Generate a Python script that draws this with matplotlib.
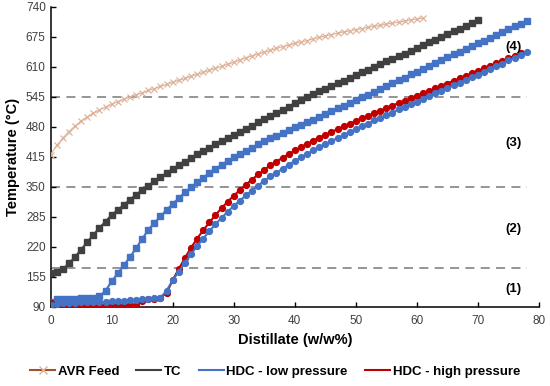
import numpy as np
import matplotlib
matplotlib.use("Agg")
import matplotlib.pyplot as plt
from matplotlib.lines import Line2D

plt.rcParams['font.family'] = ['Liberation Sans', 'DejaVu Sans']

# distillate (w/w%) vs temperature (degC), one point per 1 w/w%
avr_feed = [420, 440, 456, 470, 482, 493, 502, 510, 517, 523,
            529, 535, 540, 545, 550, 554, 559, 563, 568, 572,
            577, 581, 585, 590, 594, 598, 603, 607, 611, 616,
            620, 625, 630, 634, 638, 642, 646, 650, 654, 657,
            661, 664, 667, 671, 674, 677, 680, 683, 686, 688,
            691, 693, 696, 698, 700, 703, 705, 707, 709, 712,
            714, 716]

tc = [164, 166, 171, 184, 198, 214, 230, 246, 261, 275,
      289, 300, 311, 322, 333, 343, 353, 362, 371, 380,
      389, 397, 405, 413, 421, 428, 435, 442, 449, 456,
      463, 470, 476, 483, 490, 497, 504, 511, 517, 524,
      531, 538, 545, 551, 557, 563, 569, 575, 580, 586,
      592, 598, 604, 610, 616, 622, 628, 633, 639, 645,
      651, 657, 663, 669, 675, 681, 687, 693, 699, 705,
      711]

hdc_low_sq = [101, 106, 107, 108, 108, 109, 109, 110, 113, 125,
              145, 163, 180, 198, 217, 237, 257, 272, 286, 300,
              313, 326, 338, 349, 360, 370, 380, 389, 398, 406,
              414, 421, 428, 435, 442, 449, 455, 461, 467, 473,
              479, 485, 490, 496, 502, 508, 514, 520, 526, 532,
              538, 544, 550, 556, 563, 569, 575, 581, 587, 594,
              600, 606, 612, 618, 625, 631, 637, 643, 649, 655,
              661, 667, 673, 679, 686, 692, 698, 704, 710]

hdc_low_ci = [95, 97, 98, 99, 99, 100, 100, 100, 101, 101,
              102, 102, 103, 104, 105, 107, 108, 109, 110, 125,
              148, 166, 185, 204, 222, 238, 254, 269, 283, 296,
              309, 320, 332, 342, 353, 363, 373, 381, 389, 398,
              406, 414, 421, 429, 436, 443, 449, 456, 462, 469,
              475, 482, 487, 494, 499, 506, 511, 518, 523, 529,
              535, 541, 546, 553, 558, 564, 570, 576, 581, 588,
              593, 600, 605, 612, 617, 624, 629, 636, 642]

hdc_high = [98, 95, 93, 93, 93, 93, 93, 93, 93, 93,
            93, 93, 94, 94, 94, 103, 107, 108, 110, 120,
            148, 172, 196, 218, 238, 256, 273, 289, 304, 318,
            331, 343, 355, 366, 377, 387, 397, 405, 413, 421,
            429, 436, 443, 450, 457, 463, 469, 475, 481, 487,
            493, 499, 504, 510, 515, 521, 526, 532, 537, 542,
            548, 553, 558, 564, 569, 574, 580, 585, 590, 596,
            601, 607, 612, 618, 623, 629, 634, 640]

zone_limits = [175, 350, 545]
zone_labels = ['(1)', '(2)', '(3)', '(4)']
zone_label_y = [129, 259, 445, 653]

blue = '#4472C4'
red = '#C00000'
grey = '#404040'
tan = '#DDB39A'

fig = plt.figure(figsize=(5.5, 3.86), dpi=100)
ax = fig.add_axes([0.092, 0.205, 0.888, 0.777])

ax.hlines(zone_limits, 0, 78, colors='#8c8c8c', linestyles=(0, (5, 3.5)), lw=1.3, zorder=1)

ax.plot(np.arange(len(avr_feed)), avr_feed, color=tan, lw=0.8, marker='x', ms=5, mew=0.9, zorder=3)
ax.plot(np.arange(len(tc)), tc, color=grey, lw=1.5, marker='s', ms=4.2, zorder=3)
ax.plot(np.arange(len(hdc_low_sq)), hdc_low_sq, color=blue, lw=1.5, marker='s', ms=4.2, zorder=3)
ax.plot(np.arange(len(hdc_high)), hdc_high, color=red, lw=1.5, marker='o', ms=4.2, zorder=3)
ax.plot(np.arange(len(hdc_low_ci)), hdc_low_ci, color=blue, lw=1.5, marker='o', ms=4.2, zorder=4)

for lab, yv in zip(zone_labels, zone_label_y):
    ax.text(75.8, yv, lab, ha='center', va='center', fontsize=9.5, fontweight='bold')

ax.set_xlim(0, 80)
ax.set_ylim(90, 740)
ax.set_xticks(np.arange(0, 81, 10))
ax.set_yticks(np.arange(90, 741, 65))
ax.tick_params(direction='in', length=3.5, width=1, labelsize=8.5, colors='black',
               labelcolor='#404040')
ax.tick_params(axis='x', pad=6)
for s in ['top', 'right']:
    ax.spines[s].set_visible(False)
for s in ['left', 'bottom']:
    ax.spines[s].set_linewidth(1.1)
ax.set_xlabel('Distillate (w/w%)', fontsize=10.5, fontweight='bold', labelpad=4)
ax.set_ylabel('Temperature (°C)', fontsize=10.5, fontweight='bold', labelpad=4)

handles = [
    Line2D([], [], color='#A0522D', lw=1.5, marker='x', mec=tan, ms=6),
    Line2D([], [], color=grey, lw=1.5),
    Line2D([], [], color=blue, lw=1.5),
    Line2D([], [], color=red, lw=1.5),
]
fig.legend(handles, ['AVR Feed', 'TC', 'HDC - low pressure', 'HDC - high pressure'],
           loc='center', bbox_to_anchor=(0.5, 0.037), ncol=4, frameon=False,
           prop={'size': 9.5, 'weight': 'bold'}, handlelength=1.9, handletextpad=0.2,
           columnspacing=1.3)

fig.savefig('out.png', dpi=100)
